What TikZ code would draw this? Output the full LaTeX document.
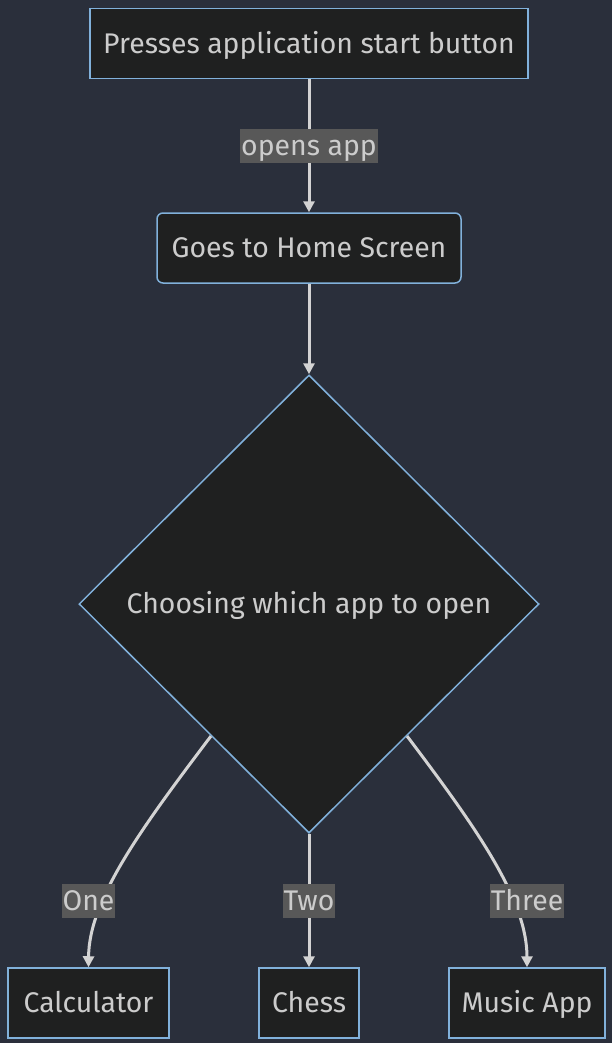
\documentclass[tikz,border=0pt]{standalone}
\usepackage{fontspec}
\setmainfont{Fira Sans}
\usetikzlibrary{shapes.geometric,arrows.meta,calc}
\definecolor{bgc}{HTML}{2A2F3B}
\definecolor{nodefill}{HTML}{1F2020}
\definecolor{nodeline}{HTML}{81B1DB}
\definecolor{txt}{HTML}{CCCCCC}
\definecolor{edgec}{HTML}{D3D3D3}
\definecolor{lblbg}{HTML}{585858}
\tikzset{
  txtfont/.style={text=txt, font=\fontsize{28.4}{32}\selectfont, text height=26.6pt, text depth=7pt},
  box/.style={draw=nodeline, fill=nodefill, line width=1.5pt, txtfont, inner sep=0pt, minimum height=70pt},
  rbox/.style={box, rounded corners=6pt},
  dia/.style={diamond, aspect=1, draw=nodeline, fill=nodefill, line width=1.5pt, txtfont, inner sep=0pt, minimum width=460pt, minimum height=458pt},
  edge/.style={draw=edgec, line width=3pt, -{Triangle[length=11pt,width=11pt]}},
  elabel/.style={fill=lblbg, txtfont, inner xsep=1pt, inner ysep=0pt, minimum height=34pt},
}
\begin{document}
\begin{tikzpicture}[x=1pt,y=-1pt]
\fill[bgc] (0,0) rectangle (612,1043);
\useasboundingbox (0,0) rectangle (612,1043);
\node[box, minimum width=438pt] (start) at (309,43.5) {Presses application start button};
\node[rbox, minimum width=304pt] (home) at (309,248) {Goes to Home Screen};
\node[dia] (choose) at (309,604) {Choosing which app to open};
\node[box, minimum width=161pt] (calc) at (88.5,1003) {Calculator};
\node[box, minimum width=100pt] (chess) at (309,1003) {Chess};
\node[box, minimum width=156pt] (music) at (527,1003) {Music App};
\coordinate (cl) at ($(choose.west)!0.575!(choose.south)$);
\coordinate (cr) at ($(choose.east)!0.575!(choose.south)$);
\draw[edge] (start.south) -- (home.north);
\draw[edge] (home.south) -- (choose.north);
\draw[edge] (cl) .. controls (140,830) and (89,900) .. (calc.north);
\draw[edge] (choose.south) -- (chess.north);
\draw[edge] (cr) .. controls (478,830) and (527,900) .. (music.north);
\node[elabel] (l1) at (309,146) {opens app};
\node[elabel] (l2) at (88.5,901) {One};
\node[elabel] (l3) at (309,901) {Two};
\node[elabel] (l4) at (527,901) {Three};
\end{tikzpicture}
\end{document}
